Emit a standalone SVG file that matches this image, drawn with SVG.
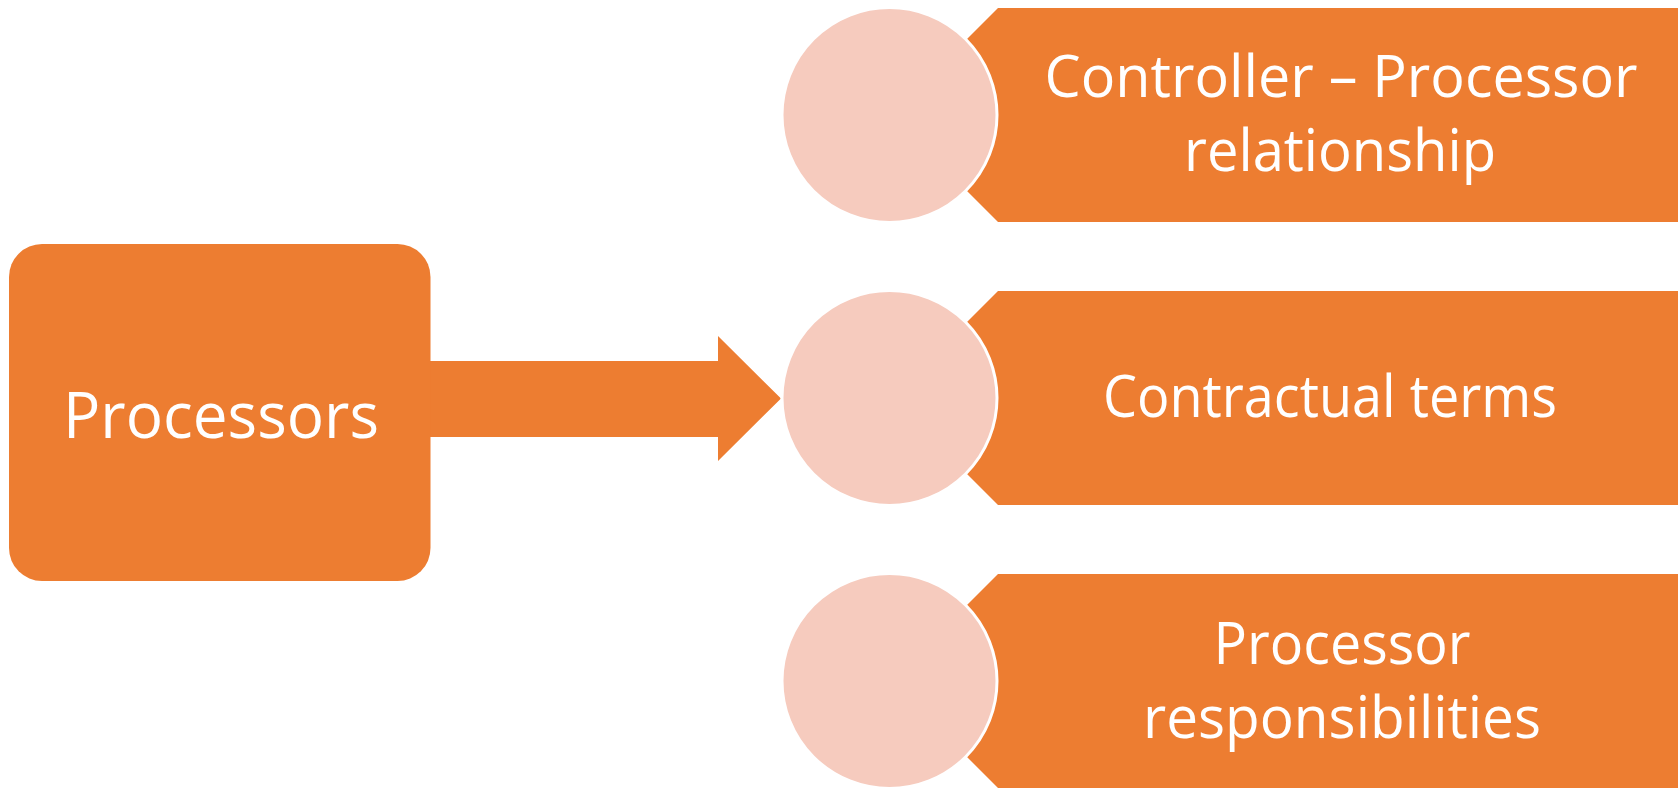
<svg xmlns="http://www.w3.org/2000/svg" width="1678" height="789" viewBox="0 0 1678 789">
  <style>
    .orange { fill: #ED7D31; }
    .circ { fill: #F6CBBE; stroke: #FFFFFF; stroke-width: 3; }
    .lbl { fill: #FFFFFF; font-family: "Open Sans", "Liberation Sans", sans-serif; font-size: 59px; text-anchor: middle; }
    .big { font-size: 64px; }
  </style>
  <rect width="1678" height="789" fill="#FFFFFF"/>
  <g id="connectors">
    <polygon class="orange" points="429,361 718,361 718,336 781,398.5 718,461 718,437 429,437"/>
  </g>
  <g id="node-processors">
    <rect class="orange" x="9" y="244" width="421.5" height="337" rx="33" ry="33"/>
    <text class="lbl big" x="221" y="438" textLength="316" lengthAdjust="spacingAndGlyphs">Processors</text>
  </g>
  <g id="node-controller-processor">
    <polygon class="orange" points="998,8 1678,8 1678,222 998,222 891,115"/>
    <circle class="circ" cx="889.5" cy="115" r="107.5"/>
    <text class="lbl" x="1341" y="97" textLength="593" lengthAdjust="spacingAndGlyphs">Controller – Processor</text>
    <text class="lbl" x="1340" y="171" textLength="312" lengthAdjust="spacingAndGlyphs">relationship</text>
  </g>
  <g id="node-contractual-terms">
    <polygon class="orange" points="998,291 1678,291 1678,505 998,505 891,398"/>
    <circle class="circ" cx="889.5" cy="398" r="107.5"/>
    <text class="lbl" x="1330" y="417" textLength="454" lengthAdjust="spacingAndGlyphs">Contractual terms</text>
  </g>
  <g id="node-processor-responsibilities">
    <polygon class="orange" points="998,574 1678,574 1678,788 998,788 891,681"/>
    <circle class="circ" cx="889.5" cy="681" r="107.5"/>
    <text class="lbl" x="1342" y="664" textLength="257" lengthAdjust="spacingAndGlyphs">Processor</text>
    <text class="lbl" x="1342" y="738" textLength="398" lengthAdjust="spacingAndGlyphs">responsibilities</text>
  </g>
</svg>
